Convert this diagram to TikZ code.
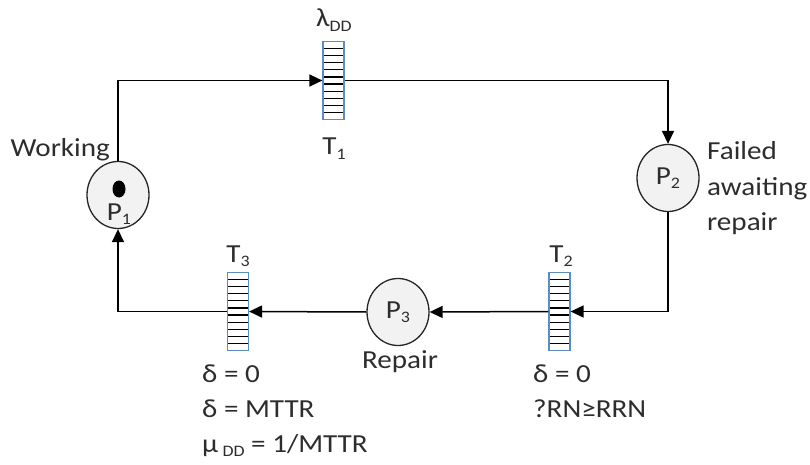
\documentclass[tikz,border=0pt]{standalone}
\usepackage{fontspec}
\setmainfont{Carlito}[FakeStretch=1.12]
\usetikzlibrary{arrows.meta,calc,shapes.geometric}
\definecolor{tborder}{RGB}{91,141,196}
\definecolor{pfill}{RGB}{242,242,242}
\definecolor{txtc}{RGB}{45,45,45}
\newcommand\subs[1]{\raisebox{-0.35ex}{\fontsize{16}{16}\selectfont #1}}
\tikzset{
  txt/.style={font=\fontsize{26}{35}\selectfont, text=txtc, inner sep=0pt},
  place/.style={ellipse, draw=black!85, line width=1.3pt, fill=pfill,
    minimum width=62pt, minimum height=67pt, inner sep=0pt, text=txtc,
    font=\fontsize{26}{26}\selectfont},
  trans/.style={rectangle, draw=tborder, line width=1.2pt, minimum width=21pt,
    minimum height=78pt, inner sep=0pt,
    path picture={\foreach \i in {1,...,10}{
      \draw[black, line width=1.1pt]
        ($(path picture bounding box.north west)!\i/11!(path picture bounding box.south west)$) --
        ($(path picture bounding box.north east)!\i/11!(path picture bounding box.south east)$);}}},
  arc/.style={line width=1.5pt, black, -{Triangle[length=13pt,width=12pt]}}
}
\begin{document}
\begin{tikzpicture}[x=1pt,y=-1pt]
\path[use as bounding box, fill=white] (0,0) rectangle (810,465);
% places
\node[place] (P1) at (118,195) {};
\node[place] (P2) at (668,178) {P\subs{2}};
\node[place] (P3) at (398,312) {P\subs{3}};
\node[ellipse, fill=black, minimum width=13pt, minimum height=17pt, inner sep=0pt] (tok) at (119,189) {};
\node[txt] (p1lbl) at (119,214) {P\subs{1}};
% transitions
\node[trans] (T1) at (333.5,80.5) {};
\node[trans] (T2) at (559.5,311.5) {};
\node[trans] (T3) at (238,311.5) {};
% connectors
\draw[arc] (P1.north) |- (T1.west);
\draw[arc] (T1.east) -| (P2.north);
\draw[arc] (P2.south) |- (T2.east);
\draw[arc] (T2.west) -- (P3.east);
\draw[arc] (P3.west) -- (T3.east);
\draw[arc] (T3.west) -| (P1.south);
% labels
\node[txt, anchor=base east] (lw) at (110,157) {Working};
\node[txt, anchor=base] (l1) at (334,27) {λ\subs{DD}};
\node[txt, anchor=base] (lt1) at (334,155) {T\subs{1}};
\node[txt, anchor=base] (lt2) at (561,262) {T\subs{2}};
\node[txt, anchor=base] (lt3) at (238,262) {T\subs{3}};
\node[txt, anchor=base west] (lf1) at (707,160) {Failed};
\node[txt, anchor=base west] (lf2) at (707,195) {awaiting};
\node[txt, anchor=base west] (lf3) at (707,230) {repair};
\node[txt, anchor=base] (lr) at (400,368) {Repair};
\node[txt, anchor=base west] (a1) at (202,382) {δ = 0};
\node[txt, anchor=base west] (a2) at (202,417) {δ = MTTR};
\node[txt, anchor=base west] (a3) at (202,452) {μ\,\subs{DD} = 1/MTTR};
\node[txt, anchor=base west] (b1) at (533,382) {δ = 0};
\node[txt, anchor=base west] (b2) at (533,417) {?RN≥RRN};
\end{tikzpicture}
\end{document}
